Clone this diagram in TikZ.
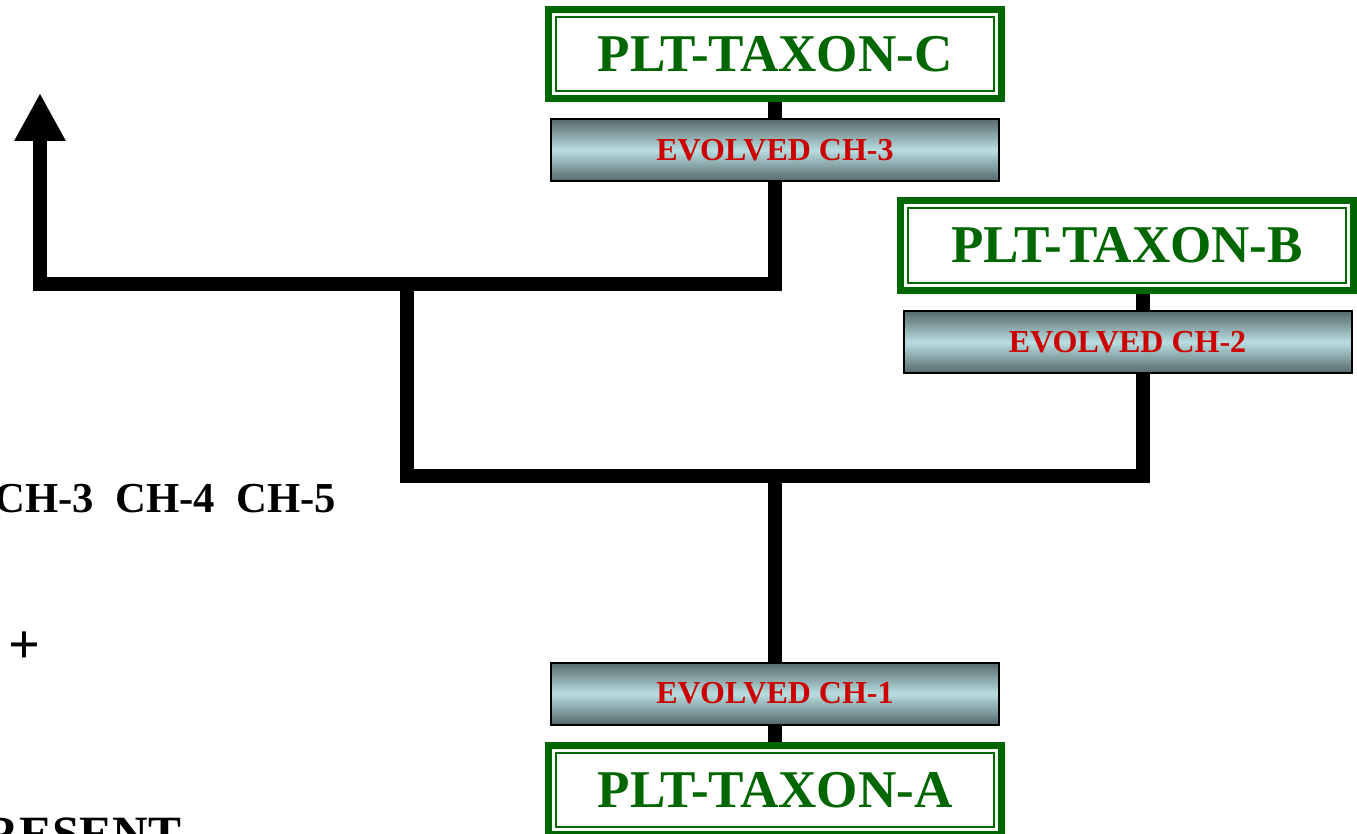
\documentclass[tikz,border=0pt]{standalone}
\usepackage{fontspec}
\setmainfont{Liberation Serif}
\usetikzlibrary{arrows.meta}
\definecolor{taxgreen}{HTML}{006600}
\definecolor{chred}{HTML}{CC0000}
\definecolor{barcyan}{HTML}{B8DEE1}
\definecolor{bargray}{HTML}{56696B}
\begin{document}
\begin{tikzpicture}[x=0.75pt,y=-0.75pt,
  branch/.style={line width=11pt},
  taxon/.style={draw=taxgreen,line width=5.25pt,fill=white,minimum width=340pt,minimum height=67pt,inner sep=0pt,
    font=\fontsize{39.8}{39.8}\selectfont\bfseries,text=taxgreen,
    path picture={\draw[taxgreen,line width=1.5pt] ([shift={(5.6pt,-5.6pt)}]path picture bounding box.north west) rectangle ([shift={(-5.6pt,5.6pt)}]path picture bounding box.south east);}},
  evolved/.style={draw=black,line width=1.5pt,minimum width=336pt,minimum height=46.5pt,inner sep=0pt,
    top color=bargray,bottom color=bargray,middle color=barcyan,
    font=\fontsize{24}{24}\selectfont\bfseries,text=chred},
  sidetext/.style={font=\fontsize{32}{32}\selectfont\bfseries}]
\useasboundingbox (0,0) rectangle (1357,834);
\clip (0,0) rectangle (1357,834);
\coordinate (tip) at (40,93);
\coordinate (kn1) at (40,284);
\coordinate (kn2) at (407,284);
\coordinate (kn3) at (775,284);
\coordinate (kn4) at (407,476);
\coordinate (kn5) at (775,476);
\coordinate (kn6) at (1143,476);
\node[taxon] (taxC) at (775,54) {PLT-TAXON-C};
\node[evolved] (evC) at (775,150) {EVOLVED CH-3};
\node[taxon] (taxB) at (1127,245.5) {PLT-TAXON-B};
\node[evolved] (evB) at (1127.5,342) {EVOLVED CH-2};
\node[evolved] (evA) at (775,693.5) {EVOLVED CH-1};
\node[taxon] (taxA) at (775,790) {PLT-TAXON-A};
\draw[branch,{Triangle[width=36pt,length=36pt]}-] (tip) -- (kn1) -- (kn3) -- (evC.south);
\draw[branch] (evC.north) -- (taxC.south);
\draw[branch] (kn2) -- (kn4) -- (kn6) -- (evB.south -| kn6);
\draw[branch] (evB.north -| kn6) -- (taxB.south -| kn6);
\draw[branch] (kn5) -- (evA.north);
\draw[branch] (evA.south) -- (taxA.north);
\node[sidetext,anchor=base west] (chars) at (-10,512) {CH-3~~CH-4~~CH-5};
\node[sidetext,font=\fontsize{42}{42}\selectfont\bfseries] (plus) at (24.5,648) {+};
\node[sidetext,font=\fontsize{37}{37}\selectfont\bfseries,anchor=base east] (present) at (186,850.5) {RESENT};
\end{tikzpicture}
\end{document}
